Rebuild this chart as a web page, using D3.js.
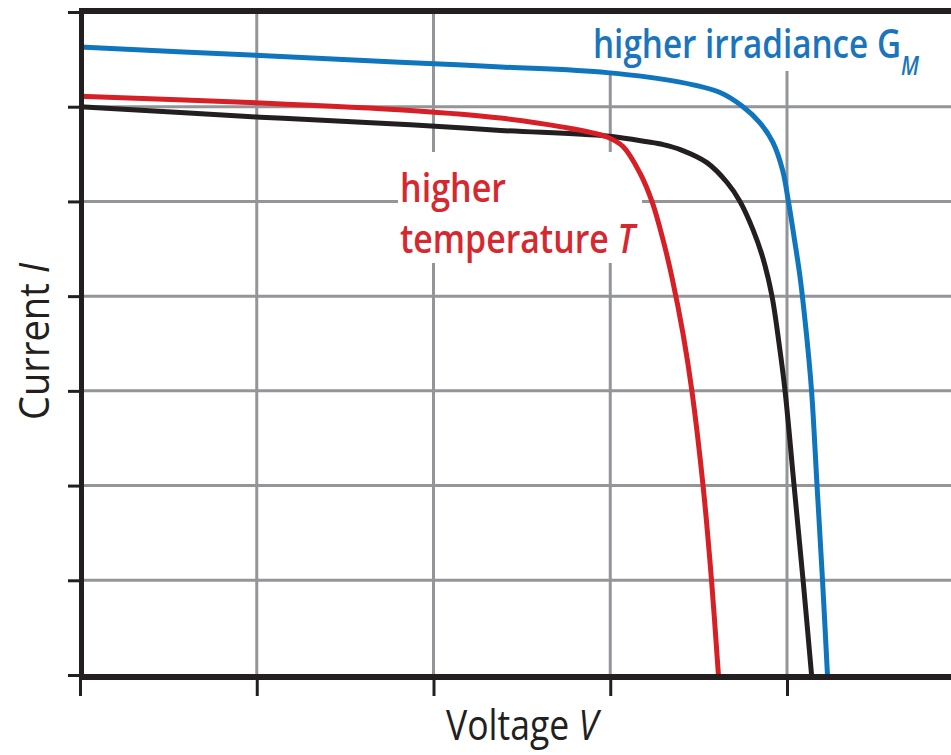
<!DOCTYPE html>
<html>
<head>
<meta charset="utf-8">
<script src="https://cdn.jsdelivr.net/npm/d3@7"></script>
<style>
  body { margin: 0; background: #fff; }
  text { font-family: "Open Sans", "Noto Sans", sans-serif; }
</style>
</head>
<body>
<div id="chart"></div>
<script>
// tick values (no tick labels in the original)
var voltTicks = [0, 1, 2, 3, 4];
var currTicks = [0, 1, 2, 3, 4, 5, 6, 7];

// reference curve (black)
var baseV = [0, 1.02, 1.87, 2.38, 2.98, 3.21, 3.30, 3.40, 3.547, 3.661, 3.734, 3.808, 3.864, 3.915, 3.955, 3.989, 4.040, 4.091, 4.139];
var baseI = [6.00, 5.89, 5.81, 5.75, 5.69, 5.63, 5.60, 5.545, 5.41, 5.20, 5.00, 4.70, 4.40, 4.00, 3.50, 3.00, 2.00, 1.00, 0];

// higher temperature (red)
var tempV = [0, 1.02, 1.87, 2.38, 2.716, 2.982, 3.072, 3.168, 3.236, 3.298, 3.349, 3.412, 3.462, 3.525, 3.573, 3.612];
var tempI = [6.11, 6.04, 5.96, 5.88, 5.79, 5.68, 5.58, 5.30, 5.00, 4.60, 4.20, 3.60, 3.00, 2.00, 1.00, 0];

// higher irradiance (blue)
var irrV = [0, 1.02, 1.81, 2.38, 2.982, 3.395, 3.621, 3.751, 3.847, 3.921, 3.975, 4.008, 4.042, 4.074, 4.110, 4.139, 4.170, 4.201, 4.229];
var irrI = [6.63, 6.54, 6.47, 6.42, 6.36, 6.26, 6.15, 6.00, 5.83, 5.62, 5.33, 5.00, 4.60, 4.20, 3.60, 3.00, 2.00, 1.00, 0];

var width = 951, height = 755;
var ink = "#231f20", grid = "#939598";

var svg = d3.select("#chart").append("svg")
  .attr("width", width)
  .attr("height", height)
  .style("background", "#fff");

var x = d3.scaleLinear().domain([0, 4]).range([80, 787]);
var y = d3.scaleLinear().domain([0, 7]).range([675, 12]);

// grid
svg.append("g").selectAll("line")
  .data(voltTicks.slice(1))
  .enter().append("line")
  .attr("x1", d => x(d)).attr("x2", d => x(d))
  .attr("y1", y(7)).attr("y2", y(0))
  .attr("stroke", grid).attr("stroke-width", 3);

svg.append("g").selectAll("line")
  .data(currTicks.slice(1, -1))
  .enter().append("line")
  .attr("x1", x(0)).attr("x2", width)
  .attr("y1", d => y(d)).attr("y2", d => y(d))
  .attr("stroke", grid).attr("stroke-width", 3);

// white patches behind the annotations
svg.append("rect").attr("x", 588).attr("y", 14).attr("width", 342).attr("height", 57).attr("fill", "#fff");
svg.append("rect").attr("x", 398).attr("y", 152).attr("width", 244).attr("height", 111).attr("fill", "#fff");

// curves
var line = d3.line()
  .x(d => x(d[0]))
  .y(d => y(d[1]))
  .curve(d3.curveCatmullRom.alpha(0.5));

var curves = [
  { v: baseV, i: baseI, color: ink },
  { v: tempV, i: tempI, color: "#d71f26" },
  { v: irrV, i: irrI, color: "#0f75bc" }
];

svg.append("g").selectAll("path")
  .data(curves)
  .enter().append("path")
  .attr("d", c => line(d3.zip(c.v, c.i)))
  .attr("fill", "none")
  .attr("stroke", c => c.color)
  .attr("stroke-width", 5)
  .attr("stroke-linejoin", "round");

// axes
var yAxis = svg.append("g")
  .attr("transform", "translate(80,0)")
  .call(d3.axisLeft(y).tickValues(currTicks).tickSize(12).tickFormat(""));
yAxis.select(".domain").remove();
yAxis.selectAll("line").attr("stroke", ink).attr("stroke-width", 3);

var xAxis = svg.append("g")
  .attr("transform", "translate(0,680)")
  .call(d3.axisBottom(x).tickValues(voltTicks).tickSize(16).tickFormat(""));
xAxis.select(".domain").remove();
xAxis.selectAll("line").attr("stroke", ink).attr("stroke-width", 3);

// frame: left, bottom and top
svg.append("line").attr("x1", 81.5).attr("x2", 81.5).attr("y1", 8).attr("y2", 680)
  .attr("stroke", ink).attr("stroke-width", 5);
svg.append("line").attr("x1", 79).attr("x2", width).attr("y1", y(0) + 2).attr("y2", y(0) + 2)
  .attr("stroke", ink).attr("stroke-width", 6);
svg.append("line").attr("x1", 79).attr("x2", width).attr("y1", y(7) - 1).attr("y2", y(7) - 1)
  .attr("stroke", ink).attr("stroke-width", 6);

// annotations
svg.append("text")
  .attr("x", 593).attr("y", 58)
  .attr("font-size", 40).attr("font-weight", 600)
  .attr("fill", "#1b75bb")
  .attr("textLength", 308).attr("lengthAdjust", "spacingAndGlyphs")
  .text("higher irradiance G");
svg.append("text")
  .attr("x", 901).attr("y", 75)
  .attr("font-size", 27).attr("font-weight", 600).attr("font-style", "italic")
  .attr("fill", "#1b75bb")
  .attr("textLength", 18).attr("lengthAdjust", "spacingAndGlyphs")
  .text("M");

svg.append("text")
  .attr("x", 400).attr("y", 202)
  .attr("font-size", 40).attr("font-weight", 600)
  .attr("fill", "#d7282f")
  .attr("textLength", 106).attr("lengthAdjust", "spacingAndGlyphs")
  .text("higher");
var tmp = svg.append("text")
  .attr("x", 400).attr("y", 253)
  .attr("font-size", 40).attr("font-weight", 600)
  .attr("fill", "#d7282f")
  .attr("textLength", 235).attr("lengthAdjust", "spacingAndGlyphs");
tmp.append("tspan").text("temperature ");
tmp.append("tspan").attr("font-style", "italic").text("T");

// axis titles
var xt = svg.append("text")
  .attr("x", 446).attr("y", 740)
  .attr("font-size", 42)
  .attr("fill", ink)
  .attr("textLength", 152).attr("lengthAdjust", "spacingAndGlyphs");
xt.append("tspan").text("Voltage ");
xt.append("tspan").attr("font-style", "italic").text("V");

var yt = svg.append("text")
  .attr("transform", "translate(49,420) rotate(-90)")
  .attr("font-size", 42)
  .attr("fill", ink)
  .attr("textLength", 157).attr("lengthAdjust", "spacingAndGlyphs");
yt.append("tspan").text("Current ");
yt.append("tspan").attr("font-style", "italic").text("I");
</script>
</body>
</html>
